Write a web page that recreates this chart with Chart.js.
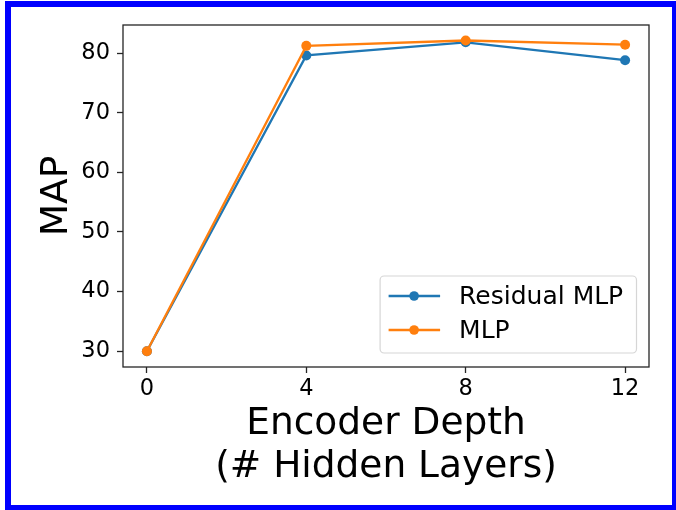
<!DOCTYPE html>
<html>
<head>
<meta charset="utf-8">
<script src="https://cdn.jsdelivr.net/npm/chart.js@4.4.1/dist/chart.umd.min.js"></script>
<style>
  html, body { margin:0; padding:0; background:#fff; }
  #wrap { position:relative; width:676px; height:510px; }
  #frame { position:absolute; left:5px; top:1px; right:0; bottom:0;
    border-style:solid; border-color:#0000ff; border-width:6px 4px 5px 6px; pointer-events:none; }
</style>
</head>
<body>
<div id="wrap">
  <canvas id="c" width="676" height="510"></canvas>
  <div id="frame"></div>
</div>
<script>
const depths      = [0, 4, 8, 12]
const residualMLP = [30.0, 79.6, 81.8, 78.8]
const plainMLP    = [30.0, 81.2, 82.1, 81.4]
const xTicks = [0, 4, 8, 12]
const yTicks = [30, 40, 50, 60, 70, 80]

const BLUE = '#1f77b4', ORANGE = '#ff7f0e'
const FONT = "'DejaVu Sans', sans-serif"

// plot frame (all four spines)
const framePlugin = {
  id: 'frame',
  afterDatasetsDraw(chart) {
    const { ctx, chartArea: a } = chart
    ctx.save()
    ctx.strokeStyle = '#262626'
    ctx.lineWidth = 1.3
    ctx.strokeRect(a.left, a.top, a.right - a.left, a.bottom - a.top)
    ctx.restore()
  }
}

// matplotlib-style legend, lower right inside the axes
const legendPlugin = {
  id: 'mplLegend',
  afterDraw(chart) {
    const { ctx, chartArea: a } = chart
    const items = chart.data.datasets
    ctx.save()
    ctx.font = '25px ' + FONT
    const tw = Math.max(...items.map(d => ctx.measureText(d.label).width))
    const w = 80.6 + tw + 11.7, h = 77
    const x = a.right - 12.5 - w, y = a.bottom - 14 - h
    ctx.beginPath()
    ctx.roundRect(x, y, w, h, 4)
    ctx.fillStyle = 'rgba(255,255,255,0.8)'
    ctx.fill()
    ctx.strokeStyle = '#d6d6d6'
    ctx.lineWidth = 1.2
    ctx.stroke()
    items.forEach((d, i) => {
      const cy = y + 20 + i * 34
      ctx.strokeStyle = d.borderColor
      ctx.lineWidth = 2.3
      ctx.beginPath(); ctx.moveTo(x + 8.5, cy); ctx.lineTo(x + 60, cy); ctx.stroke()
      ctx.fillStyle = d.borderColor
      ctx.beginPath(); ctx.arc(x + 34, cy, 4.8, 0, Math.PI * 2); ctx.fill()
      ctx.fillStyle = '#000'
      ctx.textBaseline = 'middle'
      ctx.textAlign = 'left'
      ctx.fillText(d.label, x + 79, cy + 1)
    })
    ctx.restore()
  }
}

new Chart(document.getElementById('c'), {
  type: 'line',
  data: {
    datasets: [
      { label: 'Residual MLP', data: depths.map((d, i) => ({ x: d, y: residualMLP[i] })),
        borderColor: BLUE, backgroundColor: BLUE, borderWidth: 2.3, pointRadius: 5,
        pointHoverRadius: 5, pointBorderWidth: 0, tension: 0, order: 1 },
      { label: 'MLP', data: depths.map((d, i) => ({ x: d, y: plainMLP[i] })),
        borderColor: ORANGE, backgroundColor: ORANGE, borderWidth: 2.3, pointRadius: 5,
        pointHoverRadius: 5, pointBorderWidth: 0, tension: 0, order: 0 },
    ]
  },
  options: {
    responsive: false, animation: false,
    layout: { padding: { left: 0, top: 25, right: 27, bottom: 22 } },
    plugins: { legend: { display: false }, tooltip: { enabled: false } },
    scales: {
      x: {
        type: 'linear', min: -0.6, max: 12.6,
        afterBuildTicks: s => { s.ticks = xTicks.map(v => ({ value: v })) },
        afterFit: s => { s.height = 510 - 367 - 22 },
        grid: { drawOnChartArea: false, tickLength: 6, color: '#262626', tickWidth: 1.3 },
        border: { display: false },
        ticks: { color: '#000', font: { family: FONT, size: 22.5 }, padding: 3, maxRotation: 0 },
        title: { display: true, text: ['Encoder Depth', '(# Hidden Layers)'], color: '#000',
          font: { family: FONT, size: 37.5, lineHeight: 1.13 }, padding: 0 }
      },
      y: {
        min: 27.35, max: 84.7,
        afterBuildTicks: s => { s.ticks = yTicks.map(v => ({ value: v })) },
        afterFit: s => { s.width = 123 },
        grid: { drawOnChartArea: false, tickLength: 6, color: '#262626', tickWidth: 1.3 },
        border: { display: false },
        ticks: { color: '#000', font: { family: FONT, size: 22.5 }, padding: 7 },
        title: { display: true, text: 'MAP', color: '#000',
          font: { family: FONT, size: 37.5, lineHeight: 1.13 }, padding: { top: 36, bottom: 0 } }
      }
    }
  },
  plugins: [framePlugin, legendPlugin]
})
</script>
</body>
</html>
